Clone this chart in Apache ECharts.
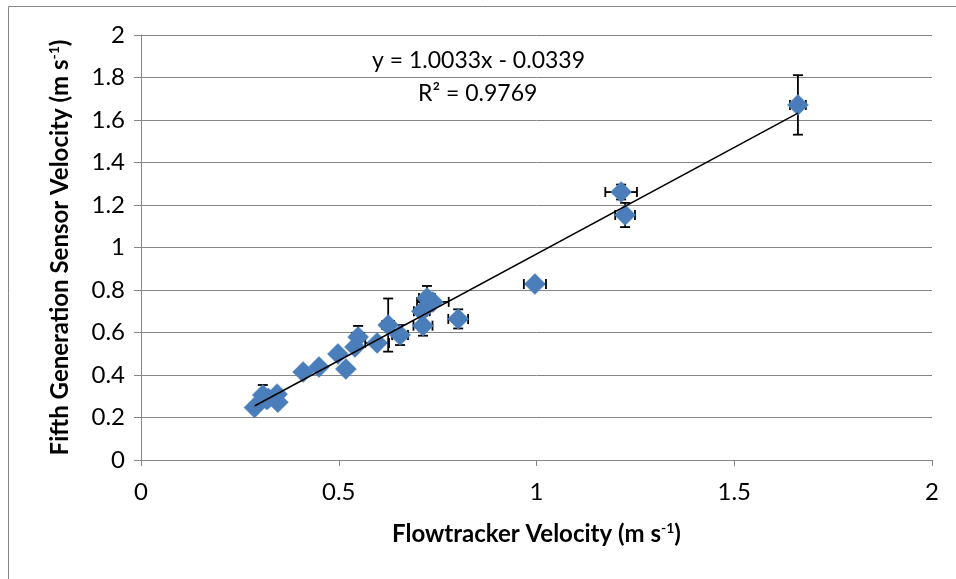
<!DOCTYPE html>
<html>
<head>
<meta charset="utf-8">
<script src="https://cdn.jsdelivr.net/npm/echarts@6/dist/echarts.min.js"></script>
<style>html,body{margin:0;padding:0;background:#fff;}#c{width:956px;height:579px;}</style>
</head>
<body>
<div id="c"></div>
<script>
// Flowtracker velocity (x) vs fifth generation sensor velocity (y), with error bars
const xVals = [1.661, 1.214, 1.224, 0.996, 0.802, 0.723, 0.738, 0.710, 0.713, 0.625, 0.655, 0.597, 0.549, 0.541, 0.498, 0.518, 0.450, 0.410, 0.287, 0.308, 0.318, 0.344, 0.346, 0.322];
const yVals = [1.671, 1.261, 1.153, 0.828, 0.664, 0.762, 0.744, 0.700, 0.632, 0.635, 0.588, 0.551, 0.579, 0.532, 0.499, 0.428, 0.438, 0.414, 0.247, 0.306, 0.285, 0.310, 0.272, 0.290];
const xErr  = [0.020, 0.040, 0.025, 0.028, 0.025, 0.020, 0.040, 0.020, 0.024, 0.015, 0.020, 0.030, 0.015, 0.010, 0.010, 0.010, 0.010, 0.010, 0.010, 0.010, 0.010, 0.010, 0.010, 0.010];
const yErr  = [0.140, 0.035, 0.057, 0.015, 0.045, 0.057, 0.020, 0.020, 0.047, 0.125, 0.047, 0.020, 0.052, 0.020, 0.015, 0.010, 0.010, 0.010, 0.010, 0.047, 0.010, 0.010, 0.010, 0.010];
const xTicks = [0, 0.5, 1, 1.5, 2];
const yTicks = [0, 0.2, 0.4, 0.6, 0.8, 1, 1.2, 1.4, 1.6, 1.8, 2];
const trendSlope = [1.0033];
const trendIntercept = [-0.0339];
const eqLabel = 'y = 1.0033x - 0.0339';
const r2Label = 'R² = 0.9769';

const pts = xVals.map((x, i) => [x, yVals[i]]);
const errData = xVals.map((x, i) => [x, yVals[i], xErr[i], yErr[i]]);
const xMin = Math.min(...xVals), xMax = Math.max(...xVals);
const trend = [[xMin, trendSlope[0] * xMin + trendIntercept[0]], [xMax, trendSlope[0] * xMax + trendIntercept[0]]];

const FONT = 'Lato, "Open Sans", sans-serif';
const chart = echarts.init(document.getElementById('c'), null, {renderer: 'canvas'});

function renderErr(params, api) {
  const x = api.value(0), y = api.value(1), xe = api.value(2), ye = api.value(3);
  const l = api.coord([x - xe, y]), r = api.coord([x + xe, y]);
  const t = api.coord([x, y + ye]), b = api.coord([x, y - ye]);
  const cap = 5;
  const st = {stroke: '#000', lineWidth: 1.8};
  const line = (x1, y1, x2, y2) => ({type: 'line', shape: {x1, y1, x2, y2}, style: st});
  return {type: 'group', children: [
    line(l[0], l[1], r[0], r[1]),
    line(l[0], l[1] - cap, l[0], l[1] + cap),
    line(r[0], r[1] - cap, r[0], r[1] + cap),
    line(t[0], t[1], b[0], b[1]),
    line(t[0] - cap, t[1], t[0] + cap, t[1]),
    line(b[0] - cap, b[1], b[0] + cap, b[1])
  ]};
}

const richName = {
  t: {fontFamily: FONT, fontSize: 24, fontWeight: 'bold', color: '#000'},
  s: {fontFamily: FONT, fontSize: 14, fontWeight: 'bold', color: '#000', padding: [0, 0, 12, 0]}
};

chart.setOption({
  animation: false,
  backgroundColor: '#fff',
  grid: {left: 141, right: 24, top: 35, bottom: 119, containLabel: false},
  xAxis: {
    type: 'value', min: xTicks[0], max: xTicks[xTicks.length - 1], interval: 0.5,
    axisLine: {show: true, onZero: false, lineStyle: {color: '#868686', width: 1}},
    axisTick: {show: true, length: 6, lineStyle: {color: '#868686'}},
    splitLine: {show: false},
    axisLabel: {color: '#000', fontFamily: FONT, fontSize: 24, margin: 20},
    name: '{t|Flowtracker Velocity (m s}{s|-1}{t|)}',
    nameLocation: 'middle', nameGap: 61,
    nameTextStyle: {rich: richName}
  },
  yAxis: {
    type: 'value', min: yTicks[0], max: yTicks[yTicks.length - 1], interval: 0.2,
    axisLine: {show: true, onZero: false, lineStyle: {color: '#868686', width: 1}},
    axisTick: {show: true, length: 7, lineStyle: {color: '#868686'}},
    splitLine: {show: true, lineStyle: {color: '#868686', width: 1}},
    axisLabel: {color: '#000', fontFamily: FONT, fontSize: 24, margin: 16},
    name: '{t|Fifth Generation Sensor Velocity (m s}{s|-1}{t|)}',
    nameLocation: 'middle', nameGap: 68, nameRotate: 90,
    nameTextStyle: {rich: richName}
  },
  series: [
    {type: 'custom', data: errData, renderItem: renderErr, z: 2, clip: false},
    {type: 'scatter', data: pts, symbol: 'diamond', symbolSize: 21, z: 3,
     itemStyle: {color: '#4A7EBB', opacity: 1, borderColor: '#4F81BD', borderWidth: 0.5}},
    {type: 'line', data: trend, showSymbol: false, symbol: 'none', z: 4,
     lineStyle: {color: '#000', width: 1.5}}
  ],
  graphic: [
    {type: 'rect', shape: {x: 8.5, y: 6.5, width: 1000, height: 1000}, style: {fill: 'none', stroke: '#868686', lineWidth: 1}, silent: true},
    {type: 'text', left: 372, top: 49, style: {text: eqLabel, font: '23px ' + FONT, fill: '#000'}},
    {type: 'text', left: 418, top: 82, style: {text: r2Label, font: '23px ' + FONT, fill: '#000'}}
  ]
});
</script>
</body>
</html>
